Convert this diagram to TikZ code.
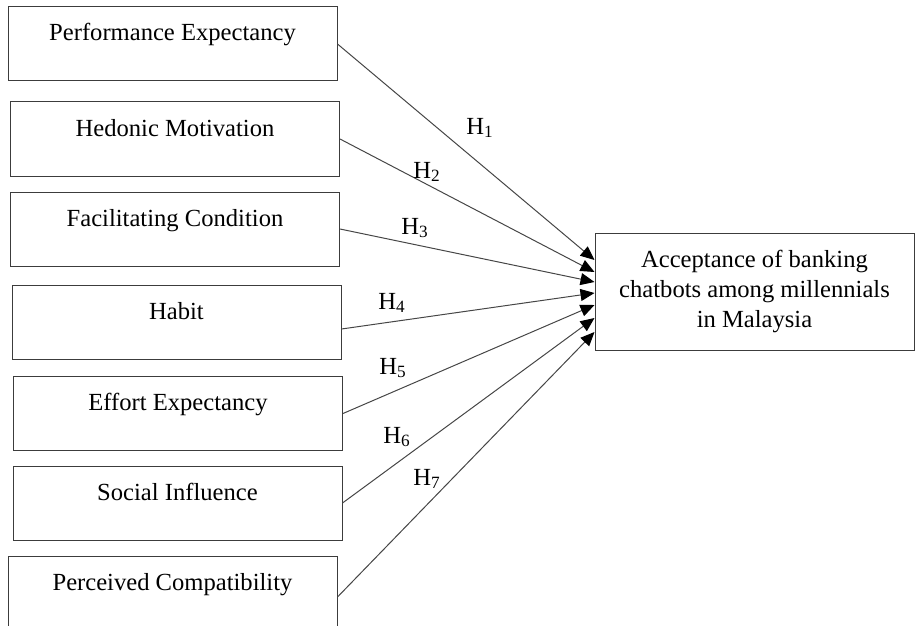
\documentclass[tikz,border=0pt]{standalone}
\usepackage{fontspec}
\setmainfont{Liberation Serif}
\usepackage{tikz}
\usetikzlibrary{arrows.meta, positioning}
\definecolor{boxline}{RGB}{60, 60, 60}
\definecolor{pathline}{RGB}{70, 70, 70}
\tikzset{
  factor/.style={draw=boxline, line width=0.5pt, minimum width=164.5pt,
    inner xsep=0pt, inner ysep=0pt, text height=17pt, text depth=20pt},
  outcome/.style={draw=boxline, line width=0.5pt, minimum width=159.5pt,
    minimum height=58.5pt, inner sep=0pt, align=center},
  hpath/.style={draw=pathline, line width=0.5pt,
    -{Triangle[length=7pt, width=6pt, color=black]}},
  hlabel/.style={inner sep=0pt}
}

\begin{document}
\begin{tikzpicture}[x=0.5pt, y=-0.5pt, font=\fontsize{12.3}{15}\selectfont]
        \useasboundingbox (0,0) rectangle (915,626);

        % Factor boxes
        \foreach \name/\x/\y/\txt in {pe/172.5/44/Performance Expectancy,
            hm/175/139/Hedonic Motivation, fc/175/229/Facilitating Condition,
            hab/176.5/322/Habit, ee/178/413.5/Effort Expectancy,
            si/177.5/503/Social Influence, pc/172.5/593/Perceived Compatibility}{
          \node[factor] (\name) at (\x,\y) {\txt};
        }

        % Outcome box
        \node[outcome] (accept) at (754.5,291.5)
          {Acceptance of banking\\chatbots among millennials\\in Malaysia};

        % Hypothesis paths
        \foreach \name/\from/\to in {pe/0/15.75, hm/0/9.75, fc/0/4.75, hab/-3.5/-0.75,
            ee/0/-6.75, si/0/-13.25, pc/-2/-20.25}{
          \draw[hpath] ([yshift=\from pt]\name.east) -- ([yshift=\to pt]accept.west);
        }

        % Path labels
        \foreach \i/\x/\y in {1/480/128, 2/427/172, 3/415/228, 4/392/303,
            5/393/368, 6/397/437, 7/427/479}{
          \node[hlabel] (h\i) at (\x,\y) {H\textsubscript{\i}};
        }
      \end{tikzpicture}
\end{document}
